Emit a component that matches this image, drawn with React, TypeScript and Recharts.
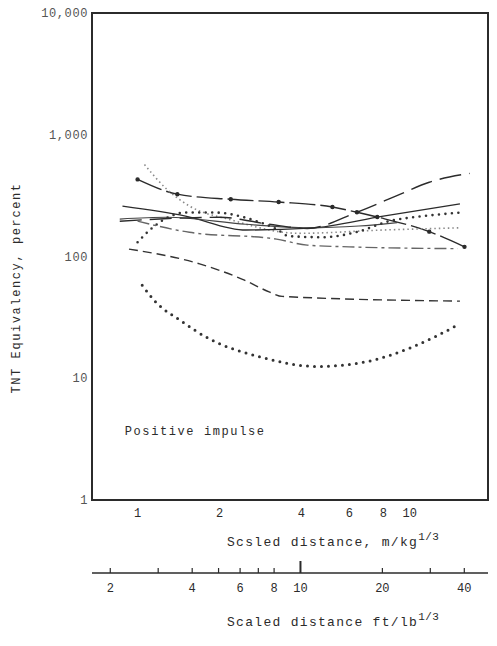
import React from "react";
import {
  LineChart,
  Line,
  XAxis,
  YAxis,
  ReferenceArea,
  ReferenceDot,
} from "recharts";

// ─── Data (scaled distance m/kg^1/3, TNT equivalency %) ──────────────────────

const X_DOMAIN: [number, number] = [0.68, 19.4];
const Y_DOMAIN: [number, number] = [1, 10000];
const M_TO_FT = 2.5198; // m/kg^1/3 -> ft/lb^1/3

const Y_TICKS = [1, 10, 100, 1000, 10000];
const M_TICKS = [1, 2, 4, 6, 8, 10];
const FT_TICKS = [2, 3, 4, 5, 6, 7, 8, 9, 10, 20, 30, 40];
const FT_LABELS = [2, 4, 6, 8, 10, 20, 40];

const dashMarked: [number, number][] = [
  [1.0, 430], [1.4, 325], [2.2, 295], [3.3, 280], [5.2, 255],
  [6.4, 231], [7.6, 211], [11.8, 160], [15.9, 120],
];
const lightDotted: [number, number][] = [
  [1.06, 570], [1.28, 357], [1.55, 260], [2.2, 200], [3.9, 155],
  [8, 165], [15.3, 172],
];
const solidRising: [number, number][] = [
  [0.88, 259], [1.5, 215], [2.5, 165], [4.3, 171], [8, 215], [15.3, 270],
];
const solidFlat: [number, number][] = [
  [0.86, 203], [1.28, 210], [2.5, 184], [4.2, 172], [6.5, 178], [9, 190],
];
const longDashRising: [number, number][] = [
  [0.86, 195], [1.3, 205], [2.0, 210], [3.0, 185], [4.2, 170],
  [6.4, 231], [9.2, 324], [11.8, 407], [16.6, 482],
];
const starDotted: [number, number][] = [
  [1.0, 131], [1.14, 174], [1.51, 230], [1.89, 230], [2.74, 195],
  [3.24, 168], [3.6, 147], [4.78, 144], [6.4, 159], [8.4, 195],
  [11.1, 214], [15.6, 230],
];
const dashDotGray: [number, number][] = [
  [1.0, 195], [1.55, 158], [3.24, 139], [4.2, 124], [6, 120], [15, 116],
];
const dashLower: [number, number][] = [
  [0.93, 115], [1.69, 87], [2.43, 65], [3.06, 51], [3.4, 47], [15.3, 43],
];
const heavyDotted: [number, number][] = [
  [1.04, 58], [1.17, 42], [1.43, 30], [1.84, 21], [2.81, 15],
  [4.55, 12.5], [6.95, 13.7], [10.2, 18], [15.3, 28],
];

const toPoints = (pairs: [number, number][]) => pairs.map(([x, y]) => ({ x, y }));

const MONO = '"Liberation Mono", "DejaVu Sans Mono", monospace';
const INK = "#2b2b2b";

// ─── Custom axis pieces ──────────────────────────────────────────────────────

function MTick({ x, y, payload }: any) {
  return (
    <text x={x} y={y + 9} textAnchor="middle" fontFamily={MONO} fontSize={12} fill={INK}>
      {payload.value}
    </text>
  );
}

function YTick({ x, y, payload }: any) {
  return (
    <text x={x} y={y + 4} textAnchor="end" fontFamily={MONO} fontSize={12} letterSpacing={0.6} fill="#555">
      {payload.value.toLocaleString("en-US")}
    </text>
  );
}

function FtTick({ x, y, payload }: any) {
  const v = payload?.value;
  const major = v === 10;
  return (
    <g>
      <line x1={x} y1={y} x2={x} y2={y - (major ? 12 : 5)} stroke={INK} strokeWidth={major ? 2 : 1.2} />
      {FT_LABELS.includes(v) && (
        <text x={x} y={y + 19} textAnchor="middle" fontFamily={MONO} fontSize={12} fill={INK}>
          {v}
        </text>
      )}
    </g>
  );
}

function AxisTitle({ viewBox, text, dy }: any) {
  const x = viewBox.x + 135;
  const y = viewBox.y + dy;
  return (
    <text x={x} y={y} fontFamily={MONO} fontSize={13} letterSpacing={1.3} fill={INK}>
      {text}
      <tspan dy={-6} fontSize={11} letterSpacing={0.5}>1/3</tspan>
    </text>
  );
}

function YTitle() {
  const x = 20;
  const y = 288;
  return (
    <text
      x={x}
      y={y}
      transform={`rotate(-90 ${x} ${y})`}
      textAnchor="middle"
      fontFamily={MONO}
      fontSize={12}
      letterSpacing={1.6}
      fill={INK}
    >
      TNT Equivalency, percent
    </text>
  );
}

// ─── Chart ───────────────────────────────────────────────────────────────────

export default function App() {
  return (
    <div style={{ position: "absolute", left: 0, top: 0, background: "#fff" }}>
      <LineChart width={497} height={646} margin={{ top: 13, right: 9, bottom: 8, left: 22 }}>
        <XAxis
          xAxisId={0}
          dataKey="x"
          type="number"
          scale="log"
          domain={X_DOMAIN}
          allowDataOverflow
          ticks={M_TICKS}
          tickLine={false}
          axisLine={false}
          tickSize={0}
          tickMargin={8}
          height={73}
          tick={<MTick />}
          label={{ content: (p: any) => <AxisTitle viewBox={p.viewBox} text="Scsled distance, m/kg" dy={46} /> }}
        />
        <XAxis
          xAxisId={1}
          dataKey="x"
          type="number"
          scale="log"
          domain={[X_DOMAIN[0] * M_TO_FT, X_DOMAIN[1] * M_TO_FT]}
          allowDataOverflow
          ticks={FT_TICKS}
          tickSize={0}
          tickMargin={0}
          tick={<FtTick />}
          axisLine={{ stroke: INK, strokeWidth: 1.5 }}
          height={65}
          label={{ content: (p: any) => <AxisTitle viewBox={p.viewBox} text="Scaled distance ft/lb" dy={53} /> }}
        />
        <YAxis
          type="number"
          scale="log"
          domain={Y_DOMAIN}
          allowDataOverflow
          ticks={Y_TICKS}
          tickLine={false}
          axisLine={false}
          tickSize={0}
          tickMargin={4}
          width={70}
          tick={<YTick />}
          label={{ content: () => <YTitle /> }}
        />

        <ReferenceArea
          xAxisId={0}
          x1={X_DOMAIN[0]}
          x2={X_DOMAIN[1]}
          y1={Y_DOMAIN[0]}
          y2={Y_DOMAIN[1]}
          fill="none"
          stroke={INK}
          strokeWidth={2}
          ifOverflow="visible"
        />

        <Line xAxisId={0} data={toPoints(dashMarked)} dataKey="y" type="monotone" stroke={INK}
          strokeWidth={1.4} strokeDasharray="26 5" dot={{ r: 1.5, fill: INK, stroke: INK }} isAnimationActive={false} />
        <Line xAxisId={0} data={toPoints(lightDotted)} dataKey="y" type="monotone" stroke="#8a8a8a"
          strokeWidth={1.6} strokeDasharray="1.5 3" dot={false} isAnimationActive={false} />
        <Line xAxisId={0} data={toPoints(solidRising)} dataKey="y" type="monotone" stroke={INK}
          strokeWidth={1.3} dot={false} isAnimationActive={false} />
        <Line xAxisId={0} data={toPoints(solidFlat)} dataKey="y" type="monotone" stroke="#444"
          strokeWidth={1.2} dot={false} isAnimationActive={false} />
        <Line xAxisId={0} data={toPoints(longDashRising)} dataKey="y" type="monotone" stroke={INK}
          strokeWidth={1.4} strokeDasharray="22 8" dot={false} isAnimationActive={false} />
        <Line xAxisId={0} data={toPoints(starDotted)} dataKey="y" type="monotone" stroke="#333"
          strokeWidth={2.6} strokeLinecap="round" strokeDasharray="0 6.5" dot={false} isAnimationActive={false} />
        <Line xAxisId={0} data={toPoints(dashDotGray)} dataKey="y" type="monotone" stroke="#666"
          strokeWidth={1.4} strokeDasharray="12 4 3 4" dot={false} isAnimationActive={false} />
        <Line xAxisId={0} data={toPoints(dashLower)} dataKey="y" type="monotone" stroke="#333"
          strokeWidth={1.4} strokeDasharray="9 5" dot={false} isAnimationActive={false} />
        <Line xAxisId={0} data={toPoints(heavyDotted)} dataKey="y" type="monotone" stroke="#333"
          strokeWidth={3} strokeLinecap="round" strokeDasharray="0 7" dot={false} isAnimationActive={false} />

        <ReferenceDot
          xAxisId={0}
          x={0.86}
          y={3.67}
          r={0}
          fill="none"
          stroke="none"
          ifOverflow="visible"
          label={{
            content: (p: any) => (
              <text x={p.viewBox.x + 5} y={p.viewBox.y + 4} fontFamily={MONO} fontSize={12}
                letterSpacing={1.6} fill={INK}>
                Positive impulse
              </text>
            ),
          }}
        />
      </LineChart>
    </div>
  );
}
